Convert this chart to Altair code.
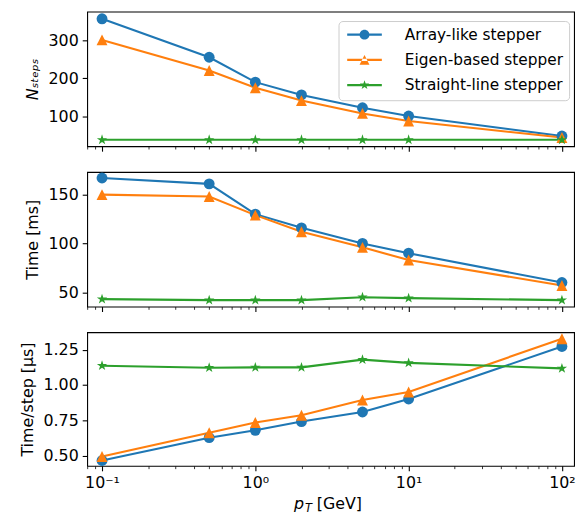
import altair as alt
import pandas as pd

# ---------------- data ----------------
pt = [0.1, 0.5, 1, 2, 5, 10, 100]
series_names = ["Array-like stepper", "Eigen-based stepper", "Straight-line stepper"]
colors = ["#1f77b4", "#ff7f0e", "#2ca02c"]

nsteps_array = [358, 256, 190, 156, 122, 100, 47]
nsteps_eigen = [302, 221, 175, 141, 107, 87, 43]
nsteps_straight = [37, 37, 37, 37, 37, 37, 37]

time_array = [167, 161, 130, 116, 100, 90, 60]
time_eigen = [150, 148, 129, 112, 96, 83, 57]
time_straight = [43, 42, 42, 42, 45, 44, 42]

tps_array = [0.465, 0.627, 0.679, 0.741, 0.809, 0.901, 1.273]
tps_eigen = [0.493, 0.662, 0.734, 0.786, 0.894, 0.951, 1.328]
tps_straight = [1.137, 1.123, 1.125, 1.125, 1.180, 1.157, 1.118]

major_ticks = [0.1, 1, 10, 100]
minor_ticks = [0.08, 0.09, 0.2, 0.3, 0.4, 0.5, 0.6, 0.7, 0.8, 0.9,
               2, 3, 4, 5, 6, 7, 8, 9, 20, 30, 40, 50, 60, 70, 80, 90]

# ---------------- styling ----------------
FONT = "DejaVu Sans"
W = 492
H1, H2, H3 = 136, 136, 135

STAR = ("M0,-1L0.2245,-0.309L0.9511,-0.309L0.3633,0.118L0.5878,0.809L0,0.382"
        "L-0.5878,0.809L-0.3633,0.118L-0.9511,-0.309L-0.2245,-0.309Z")
TRI = "M0,-1L-1,1L1,1Z"
marker_shapes = ["circle", TRI, STAR]
BAR = "M-3.5,-0.22H3.5V0.22H-3.5Z"
legend_shapes = [
    BAR + "M1,0A1,1,0,1,1,-1,0A1,1,0,1,1,1,0Z",
    BAR + "M0,-1L-1,1L1,1Z",
    BAR + STAR,
]

MAJ_TEST = "datum.value == 0.1 || datum.value == 1 || datum.value == 10 || datum.value == 100"
LABEL_EXPR = ("datum.value == 0.1 ? '10⁻¹' : datum.value == 1 ? '10⁰' : "
              "datum.value == 10 ? '10¹' : datum.value == 100 ? '10²' : ''")


def make_df(a, e, s):
    rows = []
    for name, vals in zip(series_names, [a, e, s]):
        for x, v in zip(pt, vals):
            rows.append({"pt": x, "series": name, "value": v})
    return pd.DataFrame(rows)


def panel(df, ytitle, ydomain, yticks, yfmt, h, show_legend=False,
          show_xlabels=False, ytitle_style="normal"):
    x_axis = alt.Axis(
        values=major_ticks + minor_ticks,
        labels=show_xlabels,
        labelExpr=LABEL_EXPR,
        labelOverlap=False,
        labelFlush=False,
        tickSize={"condition": {"test": MAJ_TEST, "value": 5}, "value": 2.8},
        tickWidth={"condition": {"test": MAJ_TEST, "value": 1.1}, "value": 0.8},
        title=None,
        domain=False,
        grid=False,
    )
    x = alt.X("pt:Q", scale=alt.Scale(type="log", domain=[0.08, 120], nice=False),
              axis=x_axis)
    y = alt.Y("value:Q",
              scale=alt.Scale(domain=ydomain, nice=False, zero=False),
              axis=alt.Axis(values=yticks, format=yfmt, title=ytitle,
                            titleFontStyle=ytitle_style, domain=False, grid=False))
    cscale = alt.Scale(domain=series_names, range=colors)
    base = alt.Chart(df)
    lines = base.mark_line(strokeWidth=2.1).encode(
        x=x, y=y, color=alt.Color("series:N", scale=cscale, legend=None))
    pts = base.mark_point(filled=True, size=121, opacity=1).encode(
        x=x, y=y,
        color=alt.Color("series:N", scale=cscale, legend=None),
        shape=alt.Shape("series:N", scale=alt.Scale(domain=series_names, range=marker_shapes),
                        legend=None))
    layers = [lines, pts]
    if show_legend:
        leg = alt.Legend(
            title=None, orient="none", legendX=254, legendY=9.5,
            fillColor="rgba(255,255,255,0.8)", strokeColor="#cccccc",
            cornerRadius=4, padding=6, rowPadding=8.5,
            labelFont=FONT, labelFontSize=15.5, labelColor="black", labelLimit=400,
            symbolSize=100, symbolOffset=12.5, labelOffset=33,
            symbolStrokeWidth=0, symbolOpacity=1,
        )
        leg_layer = base.mark_point(filled=True, size=100, opacity=0).encode(
            x=x, y=y,
            color=alt.Color("series:N", scale=cscale, legend=leg),
            shape=alt.Shape("series:N",
                            scale=alt.Scale(domain=series_names, range=legend_shapes),
                            legend=leg))
        layers.append(leg_layer)
    if show_xlabels:
        one = alt.Data(values=[{"k": 0}])
        layers.append(alt.Chart(one).mark_text(
            text="p", font=FONT, fontSize=16, fontStyle="italic", align="left",
            baseline="alphabetic", color="black").encode(
            x=alt.value(209), y=alt.value(h + 43.5)))
        layers.append(alt.Chart(one).mark_text(
            text="T", font=FONT, fontSize=11.5, fontStyle="italic", align="left",
            baseline="alphabetic", color="black").encode(
            x=alt.value(220), y=alt.value(h + 46.5)))
        layers.append(alt.Chart(one).mark_text(
            text="[GeV]", font=FONT, fontSize=16, align="left",
            baseline="alphabetic", color="black").encode(
            x=alt.value(232), y=alt.value(h + 43.5)))
    ch = alt.layer(*layers).properties(width=W, height=h)
    if show_legend:
        ch = ch.resolve_scale(color="independent", shape="independent")
    return ch


p1 = panel(make_df(nsteps_array, nsteps_eigen, nsteps_straight),
           "Nₛₜₑₚₛ", [20, 377], [100, 200, 300], "d", H1,
           show_legend=True, ytitle_style="italic")
p2 = panel(make_df(time_array, time_eigen, time_straight),
           "Time [ms]", [35.4, 173.2], [50, 100, 150], "d", H2)
p3 = panel(make_df(tps_array, tps_eigen, tps_straight),
           "Time/step [μs]", [0.427, 1.374], [0.5, 0.75, 1.0, 1.25], ".2f", H3,
           show_xlabels=True)

chart = alt.vconcat(p1, p2, p3, spacing=26, bounds="flush").resolve_scale(
    color="independent", shape="independent"
).properties(
    padding={"left": 10, "top": 0, "right": 0, "bottom": 0}
).configure(
    font=FONT
).configure_view(
    stroke="black", strokeWidth=1.1
).configure_axis(
    labelFont=FONT, labelFontSize=16, labelColor="black",
    titleFont=FONT, titleFontSize=16, titleFontWeight="normal", titleColor="black",
    tickColor="black", labelPadding=4, titlePadding=8,
).configure_axisY(tickSize=5, tickWidth=1.1)

chart.save("out.html", embed_options={"renderer": "svg", "actions": False})
